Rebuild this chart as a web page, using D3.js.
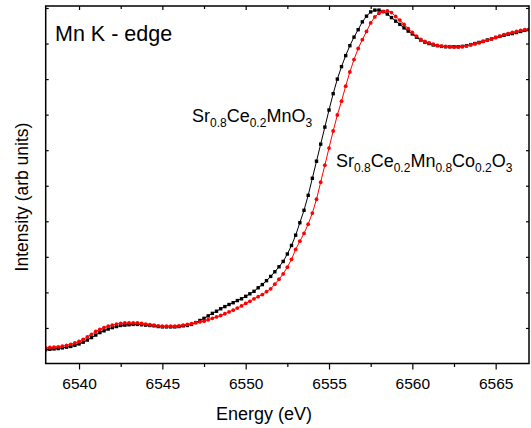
<!DOCTYPE html>
<html>
<head>
<meta charset="utf-8">
<script src="https://cdn.jsdelivr.net/npm/d3@7"></script>
<style>
  body { margin: 0; background: #fff; }
  text { font-family: Arial, "Liberation Sans", sans-serif; fill: #000; }
</style>
</head>
<body>
<div id="chart"></div>
<script>
// energies : 6538 -> 6567 eV, pas de 0.25 eV
var eStart = 6538, eStep = 0.25;

// Sr0.8Ce0.2MnO3 (noir)
var srCeMn = [
  0.39,0.40,0.41,0.42, 0.44,0.46,0.48,0.51, 0.55,0.60,0.66,0.73, 0.80,0.87,0.92,0.97,
  1.01,1.04,1.07,1.08, 1.09,1.10,1.10,1.09, 1.08,1.07,1.06,1.04, 1.03,1.03,1.03,1.03,
  1.04,1.06,1.07,1.10, 1.15,1.21,1.27,1.34, 1.41,1.47,1.54,1.60, 1.66,1.71,1.77,1.82,
  1.89,1.96,2.03,2.13, 2.22,2.33,2.45,2.58, 2.72,2.87,3.08,3.32, 3.61,3.96,4.31,4.73,
  5.21,5.69,6.17,6.65, 7.13,7.59,8.00,8.35, 8.66,8.94,9.18,9.39, 9.61,9.77,9.89,9.94,
  9.94,9.90,9.83,9.73, 9.63,9.54,9.44,9.35, 9.27,9.18,9.10,9.04, 9.00,8.96,8.94,8.92,
  8.91,8.91,8.91,8.91, 8.92,8.94,8.97,9.00, 9.03,9.06,9.10,9.13, 9.17,9.20,9.23,9.26,
  9.28,9.31,9.34,9.37, 9.39
];

// Sr0.8Ce0.2Mn0.8Co0.2O3 (rouge)
var srCeMnCo = [
  0.44,0.45,0.46,0.47, 0.49,0.51,0.54,0.58, 0.62,0.68,0.75,0.82, 0.90,0.96,1.01,1.05,
  1.08,1.11,1.13,1.14, 1.14,1.14,1.14,1.13, 1.11,1.09,1.08,1.06, 1.05,1.05,1.05,1.05,
  1.06,1.08,1.10,1.12, 1.15,1.17,1.19,1.23, 1.27,1.31,1.35,1.40, 1.45,1.50,1.56,1.62,
  1.69,1.75,1.82,1.88, 1.94,2.02,2.10,2.23, 2.37,2.52,2.71,2.93, 3.21,3.44,3.66,3.92,
  4.23,4.62,5.10,5.58, 6.06,6.54,6.99,7.38, 7.80,8.20,8.55,8.86, 9.11,9.34,9.58,9.75,
  9.85,9.90,9.92,9.87, 9.76,9.66,9.54,9.42, 9.31,9.21,9.12,9.06, 9.02,8.98,8.95,8.93,
  8.92,8.91,8.90,8.90, 8.91,8.93,8.96,8.99, 9.02,9.06,9.09,9.13, 9.17,9.21,9.25,9.28,
  9.31,9.34,9.37,9.39, 9.40
];

var xTicksMajor = [6540, 6545, 6550, 6555, 6560, 6565];
var xTicksMinor = [6542.5, 6547.5, 6552.5, 6557.5, 6562.5];
var yTicks = [1, 2, 3, 4, 5, 6, 7, 8, 9, 10];

var width = 531, height = 428;
var margin = {top: 6, right: 2, bottom: 64.5, left: 45.7};
var w = width - margin.left - margin.right,
    h = height - margin.top - margin.bottom;

var svg = d3.select("#chart")
  .append("svg")
    .attr("width", width)
    .attr("height", height)
  .append("g")
    .attr("transform", "translate(" + margin.left + "," + margin.top + ")");

var x = d3.scaleLinear().domain([6538, 6567]).range([0, w]);
var y = d3.scaleLinear().domain([0, 10.056]).range([h, 0]);

function toPoints(arr) {
  return arr.map(function(v, i) { return {e: eStart + i * eStep, v: v}; });
}
var series = [
  {name: "noir", values: toPoints(srCeMn), color: "#000000", marker: "square"},
  {name: "rouge", values: toPoints(srCeMnCo), color: "#ff0000", marker: "circle"}
];

svg.append("clipPath").attr("id", "clip")
  .append("rect").attr("width", w).attr("height", h);

var plot = svg.append("g").attr("clip-path", "url(#clip)");

var line = d3.line()
  .x(function(d) { return x(d.e); })
  .y(function(d) { return y(d.v); });

series.forEach(function(s) {
  plot.append("path")
    .datum(s.values)
    .attr("d", line)
    .attr("fill", "none")
    .attr("stroke", s.color)
    .attr("stroke-width", 1);
  if (s.marker === "square") {
    plot.selectAll(".sq")
      .data(s.values)
      .enter().append("rect")
        .attr("x", function(d) { return x(d.e) - 1.7; })
        .attr("y", function(d) { return y(d.v) - 1.7; })
        .attr("width", 3.4)
        .attr("height", 3.4)
        .attr("fill", s.color);
  } else {
    plot.selectAll(".ci")
      .data(s.values)
      .enter().append("circle")
        .attr("cx", function(d) { return x(d.e); })
        .attr("cy", function(d) { return y(d.v); })
        .attr("r", 1.9)
        .attr("fill", s.color);
  }
});

// axes : bas avec labels, haut / gauche / droite sans labels
var axB = svg.append("g").attr("transform", "translate(0," + h + ")")
  .call(d3.axisBottom(x).tickValues(xTicksMajor).tickSize(6).tickPadding(8).tickFormat(d3.format("d")));
axB.selectAll("text").style("font-size", "15.5px").style("font-family", "Arial, 'Liberation Sans', sans-serif");
svg.append("g").attr("transform", "translate(0," + h + ")")
  .call(d3.axisBottom(x).tickValues(xTicksMinor).tickSize(3.5).tickFormat(""));

svg.append("g")
  .call(d3.axisBottom(x).tickValues(xTicksMajor).tickSize(4).tickFormat(""));
svg.append("g")
  .call(d3.axisBottom(x).tickValues(xTicksMinor).tickSize(3).tickFormat(""));

svg.append("g")
  .call(d3.axisRight(y).tickValues(yTicks).tickSize(3).tickFormat(""));
svg.append("g").attr("transform", "translate(" + w + ",0)")
  .call(d3.axisLeft(y).tickValues(yTicks).tickSize(3).tickFormat(""));

svg.selectAll(".domain").remove();
svg.selectAll(".tick line").attr("stroke", "#000").attr("stroke-width", 1.2);

// cadre
svg.append("rect")
  .attr("width", w)
  .attr("height", h)
  .attr("fill", "none")
  .attr("stroke", "#000")
  .attr("stroke-width", 1.5);

// titres des axes
svg.append("text")
  .attr("x", x(6551.1))
  .attr("y", h + 56)
  .style("text-anchor", "middle")
  .style("font-size", "18px")
  .text("Energy (eV)");

svg.append("text")
  .attr("transform", "translate(" + (28 - margin.left) + "," + (197 - margin.top) + ") rotate(-90)")
  .style("text-anchor", "middle")
  .style("font-size", "17.5px")
  .text("Intensity (arb units)");

svg.append("text")
  .attr("x", 55 - margin.left)
  .attr("y", 41 - margin.top)
  .style("font-size", "21.5px")
  .text("Mn K - edge");

// etiquettes des courbes, avec indices
function formula(parts, px, py) {
  var t = svg.append("text")
    .attr("x", px - margin.left)
    .attr("y", py - margin.top)
    .style("font-size", "18px");
  parts.forEach(function(p) {
    if (p[1]) {
      t.append("tspan").attr("dy", 5).style("font-size", "12px").text(p[0]);
    } else {
      t.append("tspan").attr("dy", p[2] ? -5 : 0).text(p[0]);
    }
  });
}
formula([["Sr",0],["0.8",1],["Ce",0,1],["0.2",1],["MnO",0,1],["3",1]], 192, 122);
formula([["Sr",0],["0.8",1],["Ce",0,1],["0.2",1],["Mn",0,1],["0.8",1],["Co",0,1],["0.2",1],["O",0,1],["3",1]], 336, 166.5);
</script>
</body>
</html>
